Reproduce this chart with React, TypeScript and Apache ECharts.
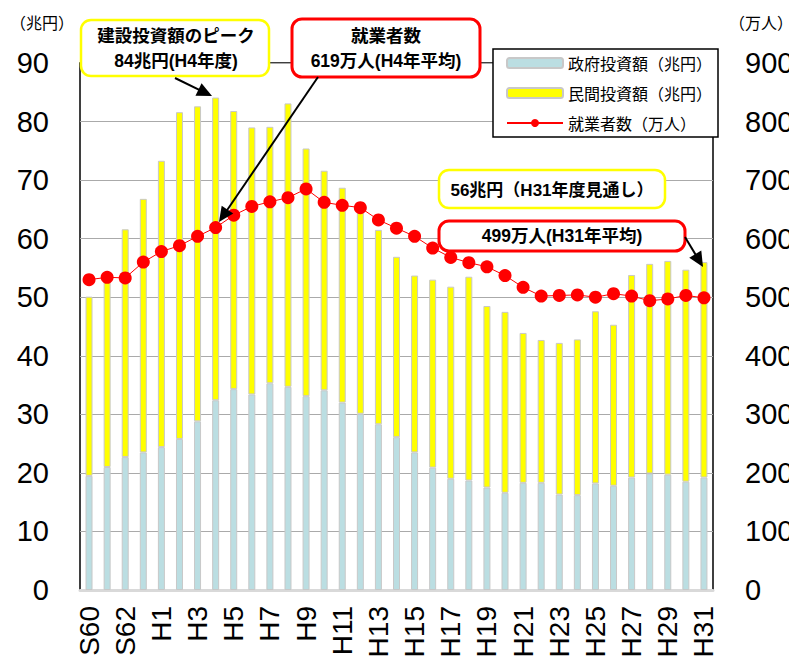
import React, { useEffect, useRef } from "react";
import * as echarts from "echarts";

const categories: string[] = [
  "S60", "S61", "S62", "S63",
  "H1", "H2", "H3", "H4", "H5", "H6", "H7", "H8", "H9", "H10",
  "H11", "H12", "H13", "H14", "H15", "H16", "H17", "H18", "H19", "H20",
  "H21", "H22", "H23", "H24", "H25", "H26", "H27", "H28", "H29", "H30", "H31",
];

// 政府投資額（兆円）
const governmentInvestment: number[] = [
  19.5, 21.0, 22.7, 23.5,
  24.4, 25.8, 28.8, 32.4, 34.3, 33.4, 35.3, 34.7, 33.1, 34.1,
  32.0, 30.1, 28.3, 26.1, 23.5, 20.9, 19.0, 18.7, 17.5, 16.6,
  18.3, 18.3, 16.3, 16.2, 18.2, 17.8, 19.2, 19.9, 19.7, 18.5, 19.2,
];

// 民間投資額（兆円）
const privateInvestment: number[] = [
  30.6, 31.6, 38.9, 43.3,
  48.9, 55.8, 53.8, 51.7, 47.5, 45.6, 43.8, 48.4, 42.3, 37.5,
  36.7, 36.1, 33.2, 30.8, 30.2, 32.1, 32.8, 34.8, 31.0, 30.9,
  25.6, 24.4, 25.9, 26.6, 29.4, 27.5, 34.6, 35.8, 36.5, 36.2, 36.8,
];

// 就業者数（万人）
const workers: number[] = [
  530, 534, 533, 560,
  578, 588, 604, 619, 640, 655, 663, 670, 685, 662,
  657, 653, 632, 618, 604, 584, 568, 559, 552, 537,
  517, 502, 503, 504, 500, 506, 502, 494, 497, 503, 499,
];

const leftTicks = { min: 0, max: 90, interval: 10 };
const rightTicks = { min: 0, max: 900, interval: 100 };

const seriesNames = ["政府投資額（兆円）", "民間投資額（兆円）", "就業者数（万人）"];

const LATIN = '"Liberation Sans", Arial, "Noto Sans CJK JP", sans-serif';
const CJK = '"Noto Sans CJK JP", "Liberation Sans", sans-serif';

function arrow(x1: number, y1: number, x2: number, y2: number, len = 15, half = 7): any[] {
  const dx = x2 - x1;
  const dy = y2 - y1;
  const d = Math.sqrt(dx * dx + dy * dy);
  const ux = dx / d;
  const uy = dy / d;
  const bx = x2 - ux * len;
  const by = y2 - uy * len;
  const px = -uy;
  const py = ux;
  return [
    {
      type: "line",
      z: 100,
      shape: { x1, y1, x2: bx + ux * 2, y2: by + uy * 2 },
      style: { stroke: "#000", lineWidth: 2 },
    },
    {
      type: "polygon",
      z: 100,
      shape: {
        points: [
          [x2, y2],
          [bx + px * half, by + py * half],
          [bx - px * half, by - py * half],
        ],
      },
      style: { fill: "#000" },
    },
  ];
}

function box(x: number, y: number, w: number, h: number, color: string, lw: number): any {
  return {
    type: "rect",
    z: 100,
    shape: { x, y, width: w, height: h, r: 10 },
    style: { fill: "#fff", stroke: color, lineWidth: lw },
  };
}

function label(text: string, x: number, y: number, size = 17.5, bold = true, align = "center"): any {
  return {
    type: "text",
    z: 101,
    x,
    y,
    style: {
      text,
      fill: "#000",
      fontSize: size,
      fontWeight: bold ? "bold" : "normal",
      fontFamily: bold ? LATIN : CJK,
      textAlign: align,
      textVerticalAlign: "middle",
    },
  };
}

export default function App() {
  const ref = useRef<HTMLDivElement>(null);

  useEffect(() => {
    if (!ref.current) return;
    const chart = echarts.init(ref.current, undefined, { renderer: "svg" });

    const option: any = {
      animation: false,
      backgroundColor: "#fff",
      grid: {
        left: 80,
        right: 76,
        top: 63,
        bottom: 72,
        show: true,
        borderColor: "#000",
        borderWidth: 1.5,
        backgroundColor: "transparent",
        containLabel: false,
        outerBoundsMode: "none",
      },
      legend: {
        orient: "vertical",
        left: 493,
        top: 49,
        padding: [4, 6, 4, 13],
        itemWidth: 56,
        itemHeight: 10,
        itemGap: 10,
        backgroundColor: "#fff",
        borderColor: "#000",
        borderWidth: 1.5,
        z: 50,
        data: seriesNames,
        textStyle: {
          fontSize: 16,
          lineHeight: 20,
          color: "#000",
          fontFamily: CJK,
        },
      },
      xAxis: {
        type: "category",
        data: categories,
        axisTick: { show: false },
        axisLine: { show: true, lineStyle: { color: "#d9d9d9", width: 3 } },
        axisLabel: {
          interval: 1,
          rotate: 90,
          fontSize: 28,
          margin: 16,
          color: "#000",
          fontFamily: LATIN,
        },
        splitLine: { show: false },
      },
      yAxis: [
        {
          type: "value",
          min: leftTicks.min,
          max: leftTicks.max,
          interval: leftTicks.interval,
          axisLine: { show: false },
          axisTick: { show: false },
          axisLabel: { fontSize: 29, margin: 31, color: "#000", fontFamily: LATIN },
          splitLine: { show: true, lineStyle: { color: "#aaaaaa", width: 1.2 } },
        },
        {
          type: "value",
          min: rightTicks.min,
          max: rightTicks.max,
          interval: rightTicks.interval,
          position: "right",
          axisLine: { show: false },
          axisTick: { show: false },
          axisLabel: { fontSize: 29, margin: 32, color: "#000", fontFamily: LATIN },
          splitLine: { show: false },
        },
      ],
      series: [
        {
          name: seriesNames[0],
          type: "bar",
          stack: "inv",
          data: governmentInvestment,
          barWidth: 7,
          itemStyle: { color: "#bbdee2", borderColor: "#c8c8c8", borderWidth: 1 },
          z: 2,
        },
        {
          name: seriesNames[1],
          type: "bar",
          stack: "inv",
          data: privateInvestment,
          barWidth: 7,
          itemStyle: { color: "#ffff00", borderColor: "#c8c8c8", borderWidth: 1 },
          z: 2,
        },
        {
          name: seriesNames[2],
          type: "line",
          yAxisIndex: 1,
          data: workers,
          symbol: "circle",
          symbolSize: 13,
          showAllSymbol: true,
          itemStyle: { color: "#ff0000" },
          lineStyle: { color: "#ff0000", width: 1 },
          z: 5,
        },
      ],
      graphic: [
        label("（兆円）", 42, 22, 16, false),
        label("（万人）", 761, 22, 16, false),
        box(81, 20, 188, 56, "#ffff00", 2.5),
        label("建設投資額のピーク", 176, 36),
        label("84兆円(H4年度)", 176, 61),
        box(292, 19, 188, 58, "#ff0000", 3),
        label("就業者数", 386, 36),
        label("619万人(H4年平均)", 386, 61),
        box(439, 170, 226, 38, "#ffff00", 2.5),
        label("56兆円（H31年度見通し）", 552, 190, 17),
        box(439, 221, 246, 30, "#ff0000", 3),
        label("499万人(H31年平均)", 562, 236),
        ...arrow(175, 78, 212, 96),
        ...arrow(318, 77, 219, 222),
        ...arrow(685, 237, 703, 267),
      ],
    };

    chart.setOption(option);
    return () => chart.dispose();
  }, []);

  return (
    <div
      ref={ref}
      style={{ position: "absolute", left: 0, top: 0, width: 789, height: 662, overflow: "hidden" }}
    />
  );
}
